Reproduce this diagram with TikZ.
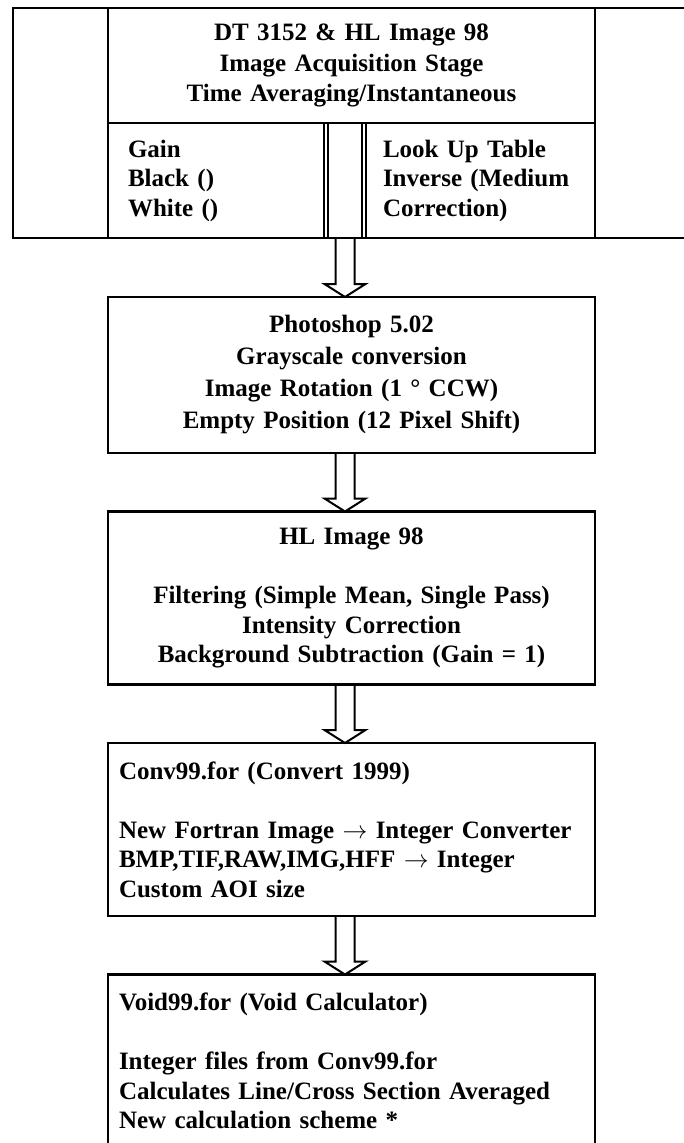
\documentclass[tikz,border=0pt]{standalone}
\usepackage{fontspec}
\setmainfont{Liberation Serif}
\usetikzlibrary{positioning,calc}

\begin{document}
\begin{tikzpicture}[
  x=1pt, y=-1pt,
  every node/.style={outer sep=0pt},
  txt/.style={font=\bfseries\fontsize{25}{29.5}\selectfont},
  stagebox/.style={rectangle, draw, line width=2.4pt, txt, align=center,
                   inner xsep=11pt, inner ysep=0pt, text width=465pt,
                   minimum height=173pt},
  subbox/.style={rectangle, draw, line width=2.4pt, txt, align=left,
                 inner ysep=0pt, minimum height=115pt, anchor=north west},
  hollow/.style={draw, line width=2pt, line join=miter},
  node distance=58.5pt
]
\useasboundingbox (0,0) rectangle (683,1143);
% acquisition stage, frame runs off the right edge
\node[draw, line width=2.4pt, minimum width=720pt, minimum height=230pt,
      anchor=north west] (frame) at (13,8) {};
\node[stagebox, minimum height=115pt, anchor=north west,
      font=\bfseries\fontsize{25}{30.5}\selectfont] (acq) at (108,8)
      {DT 3152 \& HL Image 98\\Image Acquisition Stage\\Time Averaging/Instantaneous};
\node[subbox, inner xsep=20pt, text width=176pt] (gain) at (108,123)
      {Gain\\Black ()\\White ()};
\node[subbox, inner xsep=0pt, minimum width=34pt] (midbar) at (328,123) {};
\node[subbox, inner xsep=17pt, text width=195pt] (lut) at (366,123)
      {Look Up Table\\Inverse (Medium\\Correction)};
% processing chain
\node[stagebox, minimum height=156pt, anchor=north,
      font=\bfseries\fontsize{25}{32}\selectfont] (photo) at (351.5,297)
      {Photoshop 5.02\\Grayscale conversion\\Image Rotation (1 ° CCW)\\Empty Position (12 Pixel Shift)};
\node[stagebox, below=of photo] (hlimg)
      {HL Image 98\\[29.5pt]Filtering (Simple Mean, Single Pass)\\Intensity Correction\\Background Subtraction (Gain = 1)};
\node[stagebox, align=left, below=of hlimg] (conv)
      {Conv99.for (Convert 1999)\\[29.5pt]New Fortran Image $\rightarrow$ Integer Converter\\BMP,TIF,RAW,IMG,HFF $\rightarrow$ Integer\\Custom AOI size};
\node[stagebox, align=left, below=of conv] (void)
      {Void99.for (Void Calculator)\\[29.5pt]Integer files from Conv99.for\\Calculates Line/Cross Section Averaged\\New calculation scheme *};
% hollow block arrows
\foreach \src/\dst in {midbar/photo, photo/hlimg, hlimg/conv, conv/void}
  \draw[hollow] ($(\src.south -| midbar.center)+(-9.5,0)$)
    -- ($(\dst.north -| midbar.center)+(-9.5,-13)$) -- ++(-11,0)
    -- (\dst.north -| midbar.center) -- ++(20.5,-13) -- ++(-11,0)
    -- ($(\src.south -| midbar.center)+(9.5,0)$);
\end{tikzpicture}
\end{document}
